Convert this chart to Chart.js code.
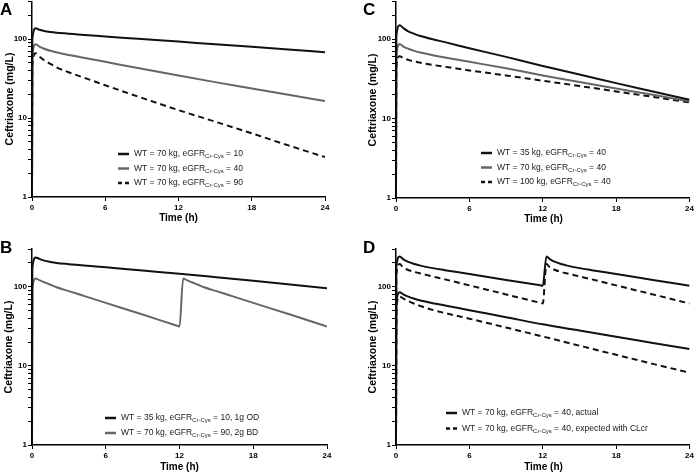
<!DOCTYPE html>
<html>
<head>
<meta charset="utf-8">
<script src="https://cdn.jsdelivr.net/npm/chart.js@4.4.1/dist/chart.umd.min.js"></script>
<style>
body{margin:0;background:#fff;width:696px;height:472px;position:relative;overflow:hidden;font-family:"Liberation Sans",Arial,sans-serif}
canvas{position:absolute}
.lbl{position:absolute;font-weight:bold;color:#000;white-space:nowrap;line-height:1}
.letter{font-size:17px}
.xt{font-size:10px;transform:translate(-50%,-50%)}
.yt{font-size:10.5px;transform:translate(-50%,-50%) rotate(-90deg)}
</style>
</head>
<body>
<canvas id="cA" width="348" height="236" style="left:0;top:0"></canvas>
<canvas id="cC" width="348" height="236" style="left:348px;top:0"></canvas>
<canvas id="cB" width="348" height="236" style="left:0;top:236px"></canvas>
<canvas id="cD" width="348" height="236" style="left:348px;top:236px"></canvas>

<div class="lbl letter" style="left:0;top:1px">A</div>
<div class="lbl letter" style="left:363px;top:1px">C</div>
<div class="lbl letter" style="left:0;top:239px">B</div>
<div class="lbl letter" style="left:363px;top:239px">D</div>

<div class="lbl yt" style="left:8.5px;top:99px">Ceftriaxone (mg/L)</div>
<div class="lbl yt" style="left:372px;top:100px">Ceftriaxone (mg/L)</div>
<div class="lbl yt" style="left:8px;top:347px">Ceftriaxone (mg/L)</div>
<div class="lbl yt" style="left:372px;top:347px">Ceftriaxone (mg/L)</div>

<div class="lbl xt" style="left:178.5px;top:217.5px">Time (h)</div>
<div class="lbl xt" style="left:543.5px;top:219px">Time (h)</div>
<div class="lbl xt" style="left:179.5px;top:467px">Time (h)</div>
<div class="lbl xt" style="left:543.5px;top:467px">Time (h)</div>

<script>
// time grids (h)
const timeOD = [0, 0.03, 0.3, 0.6, 1, 1.5, 2, 3, 4, 6, 9, 12, 15, 18, 21, 24];
const timeBD = [0, 0.03, 0.3, 0.6, 1, 1.5, 2, 3, 4, 6, 9, 11.8, 12, 12.3, 12.6, 13, 13.5, 14, 15, 16, 18, 21, 24];

// A: WT 70 kg, varying eGFR
const aEgfr10 = [1, 100, 137, 131, 126.5, 123, 120.5, 117, 113.5, 108, 100, 93, 86, 80, 74, 68];
const aEgfr40 = [1, 62, 86, 80.5, 75.5, 71, 68, 63, 59, 51.5, 42, 34.5, 28.5, 23.7, 19.7, 16.4];
const aEgfr90 = [1, 48, 66, 60, 54, 48.5, 44, 38, 33.5, 26, 18, 12.6, 9, 6.4, 4.5, 3.2];

// B: dosing regimens
const bOD1g = [1, 170, 235, 225, 214, 206, 200, 193, 187, 176, 160, 146, 132, 119, 107, 96];
const bBD2g = [1, 95, 127, 121, 114, 106, 98.5, 88, 78.5, 62.5, 44.5, 32.2, 31.5, 127, 121, 114, 106, 98.5, 88, 78.5, 62.5, 44.5, 31.5];

// C: eGFR 40, varying weight
const cWt35 = [1, 110, 150, 138, 126, 117, 110, 100, 92, 77, 60, 46, 36, 28, 22, 17.3];
const cWt70 = [1, 63, 87, 81, 76, 71.5, 68, 63, 59, 52, 43, 35, 29, 24, 20, 16.5];
const cWt100 = [1, 45, 61, 58, 55, 52.5, 50.5, 47.5, 45, 40.5, 35, 30, 25.8, 22, 18.8, 16];

// D: actual vs expected with CLcr
const dActualBD = [1, 180, 242, 222, 206, 194, 185, 172, 162, 145, 122, 104.2, 103, 242, 222, 206, 194, 185, 172, 162, 145, 122, 103];
const dExpectedBD = [1, 145, 194, 174, 163, 154, 147, 135, 124, 104, 80, 62.6, 61.5, 194, 174, 163, 154, 147, 135, 124, 104, 80, 61.5];
const dActualOD = [1, 62, 85, 80, 75, 70.5, 67, 62, 58, 50.5, 41.2, 33.5, 28, 23.3, 19.5, 16.3];
const dExpectedOD = [1, 55, 75, 71, 66, 61, 57, 51, 46.5, 39.5, 30.5, 23.5, 18, 13.8, 10.6, 8.2];

const xTicks = [0, 6, 12, 18, 24];
const yTicks = [1, 2, 3, 4, 5, 6, 7, 8, 9, 10, 20, 30, 40, 50, 60, 70, 80, 90, 100, 200, 300];
const yLabels = [1, 10, 100];

const legendA = [["WT = 70 kg, eGFR", "Cr-Cys", " = 10"], ["WT = 70 kg, eGFR", "Cr-Cys", " = 40"], ["WT = 70 kg, eGFR", "Cr-Cys", " = 90"]];
const legendB = [["WT = 35 kg, eGFR", "Cr-Cys", " = 10, 1g OD"], ["WT = 70 kg, eGFR", "Cr-Cys", " = 90, 2g BD"]];
const legendC = [["WT = 35 kg, eGFR", "Cr-Cys", " = 40"], ["WT = 70 kg, eGFR", "Cr-Cys", " = 40"], ["WT = 100 kg, eGFR", "Cr-Cys", " = 40"]];
const legendD = [["WT = 70 kg, eGFR", "Cr-Cys", " = 40, actual"], ["WT = 70 kg, eGFR", "Cr-Cys", " = 40, expected with CLcr"]];

const FONT = '"Liberation Sans", Arial, sans-serif';
const BLACK = '#111';
const GREY = '#666';
const DASH = [6, 4];

function line(times, vals, color, dash) {
  return {
    data: times.map((t, i) => ({x: t, y: vals[i]})),
    borderColor: color,
    borderWidth: 2,
    borderDash: dash || [],
    pointRadius: 0,
    fill: false,
    cubicInterpolationMode: 'monotone'
  };
}

// legend with subscripts, drawn on the canvas
function subLegend(lg) {
  return {
    id: 'subLegend',
    afterDraw(chart) {
      var ctx = chart.ctx;
      lg.rows.forEach((row, i) => {
        var y = lg.y + i * lg.gap;
        var st = lg.styles[i];
        ctx.save();
        ctx.strokeStyle = st.color;
        ctx.lineWidth = 2.5;
        ctx.setLineDash(st.dash ? [4, 3] : []);
        ctx.beginPath();
        ctx.moveTo(lg.x, y);
        ctx.lineTo(lg.x + 11, y);
        ctx.stroke();
        ctx.setLineDash([]);
        ctx.fillStyle = '#1a1a1a';
        ctx.textBaseline = 'middle';
        var tx = lg.x + 16;
        ctx.font = '8.5px ' + FONT;
        ctx.fillText(row[0], tx, y);
        tx += ctx.measureText(row[0]).width;
        ctx.font = '6px ' + FONT;
        ctx.fillText(row[1], tx, y + 2.5);
        tx += ctx.measureText(row[1]).width;
        ctx.font = '8.5px ' + FONT;
        ctx.fillText(row[2], tx, y);
        ctx.restore();
      });
    }
  };
}

function panel(id, box, datasets, lg) {
  var tickFont = {family: FONT, size: 8, weight: 'bold'};
  return new Chart(id, {
    type: 'line',
    data: {datasets: datasets},
    options: {
      responsive: false,
      animation: false,
      layout: {padding: {left: 0, top: box.T, right: 348 - box.R, bottom: 0}},
      plugins: {legend: {display: false}, tooltip: {enabled: false}},
      scales: {
        x: {
          type: 'linear', min: 0, max: 24,
          afterBuildTicks: s => { s.ticks = xTicks.map(v => ({value: v})); },
          ticks: {font: tickFont, color: '#000', padding: 2, maxRotation: 0, autoSkip: false},
          grid: {drawOnChartArea: false, tickLength: 4, tickColor: '#000'},
          border: {color: '#000', width: 1.5},
          afterFit: s => { s.height = 236 - box.B; }
        },
        y: {
          type: 'logarithmic', min: 1, max: 300,
          afterBuildTicks: s => { s.ticks = yTicks.map(v => ({value: v})); },
          ticks: {
            font: {family: FONT, size: 8, weight: 'bold', lineHeight: 0.1},
            color: '#000', padding: 1, autoSkip: false,
            callback: v => yLabels.includes(v) ? String(v) : ''
          },
          grid: {drawOnChartArea: false, tickLength: 4, tickColor: '#000'},
          border: {color: '#000', width: 1.5},
          afterFit: s => { s.width = box.L; }
        }
      }
    },
    plugins: [subLegend(lg)]
  });
}

panel('cA', {L: 32, R: 325, T: 1, B: 197}, [
  line(timeOD, aEgfr10, BLACK),
  line(timeOD, aEgfr40, GREY),
  line(timeOD, aEgfr90, BLACK, DASH)
], {x: 118, y: 154, gap: 14.5, rows: legendA,
    styles: [{color: BLACK}, {color: GREY}, {color: BLACK, dash: true}]});

panel('cC', {L: 48, R: 343, T: 1, B: 198}, [
  line(timeOD, cWt35, BLACK),
  line(timeOD, cWt70, GREY),
  line(timeOD, cWt100, BLACK, DASH)
], {x: 133, y: 153, gap: 14.5, rows: legendC,
    styles: [{color: BLACK}, {color: GREY}, {color: BLACK, dash: true}]});

panel('cB', {L: 32, R: 327, T: 13, B: 209}, [
  line(timeOD, bOD1g, BLACK),
  line(timeBD, bBD2g, GREY)
], {x: 105, y: 182, gap: 15, rows: legendB,
    styles: [{color: BLACK}, {color: GREY}]});

panel('cD', {L: 48, R: 343, T: 13, B: 209}, [
  line(timeBD, dActualBD, BLACK),
  line(timeBD, dExpectedBD, BLACK, DASH),
  line(timeOD, dActualOD, BLACK),
  line(timeOD, dExpectedOD, BLACK, DASH)
], {x: 98, y: 177, gap: 15.5, rows: legendD,
    styles: [{color: BLACK}, {color: BLACK, dash: true}]});
</script>
</body>
</html>
